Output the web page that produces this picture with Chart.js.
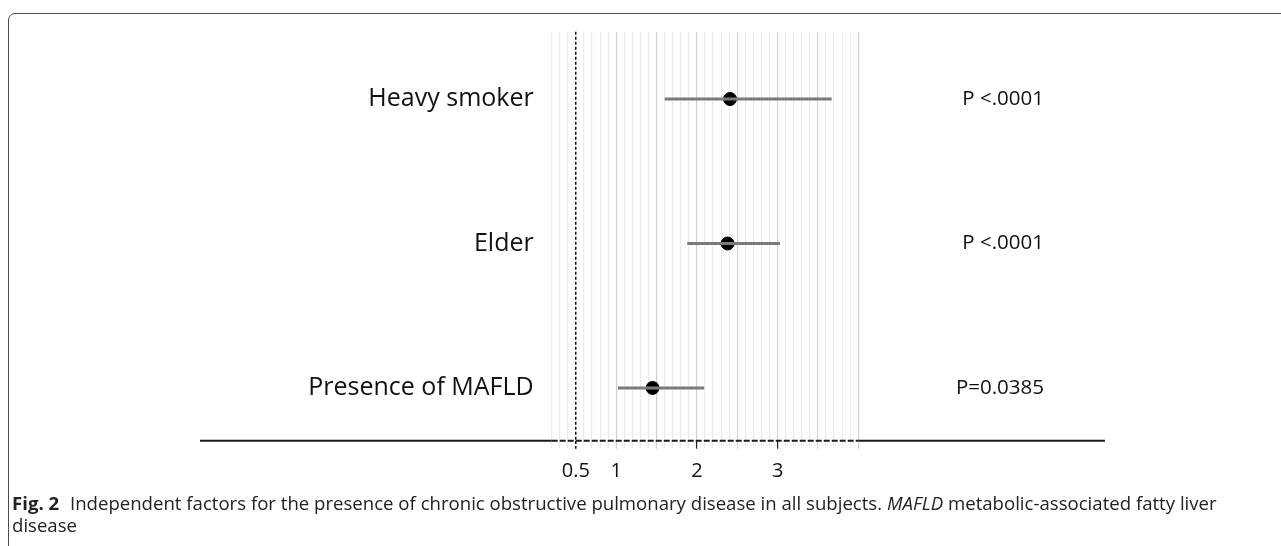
<!DOCTYPE html>
<html>
<head>
<meta charset="utf-8">
<script src="https://cdn.jsdelivr.net/npm/chart.js@4"></script>
<style>
  html, body { margin:0; padding:0; background:#fff; width:1281px; height:546px; overflow:hidden; }
  #frame { position:absolute; left:8px; top:13px; width:1400px; height:600px;
           border:1.5px solid #4a4a4a; border-radius:7px; box-sizing:border-box; }
  #chartBox { position:absolute; left:0; top:0; width:1281px; height:500px; }
  #caption { position:absolute; left:12px; top:492px; font-family:"Open Sans", sans-serif;
             font-size:18.6px; line-height:22px; color:#222; white-space:nowrap; }
  #caption b { font-weight:700; margin-right:6px; }
</style>
</head>
<body>
<div id="frame"></div>
<div id="chartBox"><canvas id="forestChart" width="1281" height="500"></canvas></div>
<div id="caption"><b>Fig. 2</b> Independent factors for the presence of chronic obstructive pulmonary disease in all subjects. <i>MAFLD</i> metabolic-associated fatty liver<br>disease</div>

<script>
// ==========================================================
// Data
// ==========================================================

const factorLabels = ["Heavy smoker", "Elder", "Presence of MAFLD"];
const rowPositions = [3, 2, 1];
const oddsRatios   = [2.41, 2.38, 1.45];
const lowerCI      = [1.60, 1.88, 1.02];
const upperCI      = [3.67, 3.03, 2.09];
const pValues      = ["P <.0001", "P <.0001", "P=0.0385"];

const xTickLabels    = [0.5, 1, 2, 3];
const referenceValue = 0.5;

// ==========================================================
// Layout helpers
// ==========================================================

const X_MIN = 0.2;
const X_MAX = 4.0;
const Y_MIN = 0.635;
const Y_MAX = 3.466;

const AXIS_LEFT  = 200;
const AXIS_RIGHT = 1105;

function near(a, b){
    return Math.abs(a - b) < 1e-6;
}

function isMajor(v){
    return near(v * 2, Math.round(v * 2));
}

function labelFor(values, labels, v){
    const i = values.findIndex(r => near(r, v));
    return i < 0 ? "" : labels[i];
}

// ==========================================================
// Axis line (solid outside, dashed across the plot)
// ==========================================================

const axisLinePlugin = {

    id: "axisLine",

    afterDraw(chart){

        const { ctx, chartArea } = chart;
        const y = chartArea.bottom;

        ctx.save();
        ctx.strokeStyle = "#1a1a1a";
        ctx.lineWidth = 2;

        ctx.beginPath();
        ctx.moveTo(AXIS_LEFT, y);
        ctx.lineTo(chartArea.left, y);
        ctx.moveTo(chartArea.right, y);
        ctx.lineTo(AXIS_RIGHT, y);
        ctx.stroke();

        ctx.setLineDash([6, 2]);
        ctx.beginPath();
        ctx.moveTo(chartArea.left, y);
        ctx.lineTo(chartArea.right, y);
        ctx.stroke();

        ctx.restore();
    }
};

// ==========================================================
// Datasets
// ==========================================================

const ciDatasets = rowPositions.map((row, i) => ({
    type: "line",
    data: [
        { x: lowerCI[i], y: row },
        { x: upperCI[i], y: row }
    ],
    borderColor: "#7a7a7a",
    borderWidth: 3,
    pointRadius: 0,
    showLine: true,
    yAxisID: "y"
}));

const pointDataset = {
    type: "scatter",
    data: rowPositions.map((row, i) => ({ x: oddsRatios[i], y: row })),
    backgroundColor: "#000",
    borderColor: "#000",
    pointRadius: 6.5,
    yAxisID: "y"
};

// ==========================================================
// Chart
// ==========================================================

const ctx = document.getElementById("forestChart").getContext("2d");

new Chart(ctx, {

    type: "scatter",

    data: {
        datasets: [...ciDatasets, pointDataset]
    },

    plugins: [axisLinePlugin],

    options: {

        responsive: false,
        animation: false,
        events: [],

        layout: {
            padding: { top: 31.7, left: 0, right: 1281 - 1044, bottom: 0 }
        },

        plugins: {
            legend: { display: false },
            tooltip: { enabled: false }
        },

        scales: {

            x: {
                type: "linear",
                min: X_MIN,
                max: X_MAX,
                afterBuildTicks(scale){
                    const ticks = [];
                    for (let i = Math.round(X_MIN * 10); i <= Math.round(X_MAX * 10); i++){
                        ticks.push({ value: i / 10 });
                    }
                    scale.ticks = ticks;
                },
                afterFit(scale){
                    scale.height = 59.3;
                    scale.paddingLeft = 0;
                    scale.paddingRight = 0;
                },
                grid: {
                    color(c){
                        const v = c.tick.value;
                        if (near(v, referenceValue)) return "#111";
                        return isMajor(v) ? "#d2d2d2" : "#ededed";
                    },
                    lineWidth(c){
                        return near(c.tick.value, referenceValue) ? 1.5 : 1.2;
                    },
                    tickLength: 8,
                    tickColor(c){
                        const v = c.tick.value;
                        if (near(v, referenceValue)) return "#111";
                        if (near(v, 2) || near(v, 3)) return "#222";
                        return isMajor(v) ? "#d2d2d2" : "#ededed";
                    },
                    tickBorderDash(c){
                        return near(c.tick.value, referenceValue) ? [3, 2] : [];
                    }
                },
                border: {
                    display: false,
                    dash(c){
                        return (c.tick && near(c.tick.value, referenceValue)) ? [3, 2] : [];
                    }
                },
                ticks: {
                    autoSkip: false,
                    maxRotation: 0,
                    padding: 11,
                    color: "#111",
                    font: { family: "'Open Sans'", size: 20 },
                    callback(value){
                        return xTickLabels.some(t => near(t, value)) ? String(value) : "";
                    }
                }
            },

            y: {
                type: "linear",
                position: "left",
                min: Y_MIN,
                max: Y_MAX,
                afterBuildTicks(scale){
                    scale.ticks = rowPositions.map(v => ({ value: v }));
                },
                afterFit(scale){
                    scale.width = 551.7;
                    scale.paddingTop = 0;
                    scale.paddingBottom = 0;
                },
                grid: { display: false, drawTicks: false },
                border: { display: false },
                ticks: {
                    padding: 18,
                    color: "#111",
                    font: { family: "'Open Sans'", size: 25 },
                    callback(value){
                        return labelFor(rowPositions, factorLabels, value);
                    }
                }
            },

            y2: {
                type: "linear",
                position: "right",
                min: Y_MIN,
                max: Y_MAX,
                afterBuildTicks(scale){
                    scale.ticks = rowPositions.map(v => ({ value: v }));
                },
                afterFit(scale){
                    scale.width = 1044 - 858.3;
                    scale.paddingTop = 0;
                    scale.paddingBottom = 0;
                },
                grid: { display: false, drawTicks: false },
                border: { display: false },
                ticks: {
                    crossAlign: "far",
                    padding: 0,
                    color: "#111",
                    font: { family: "'Open Sans'", size: 20.5 },
                    callback(value){
                        return labelFor(rowPositions, pValues, value);
                    }
                }
            }
        }
    }
});
</script>
</body>
</html>
